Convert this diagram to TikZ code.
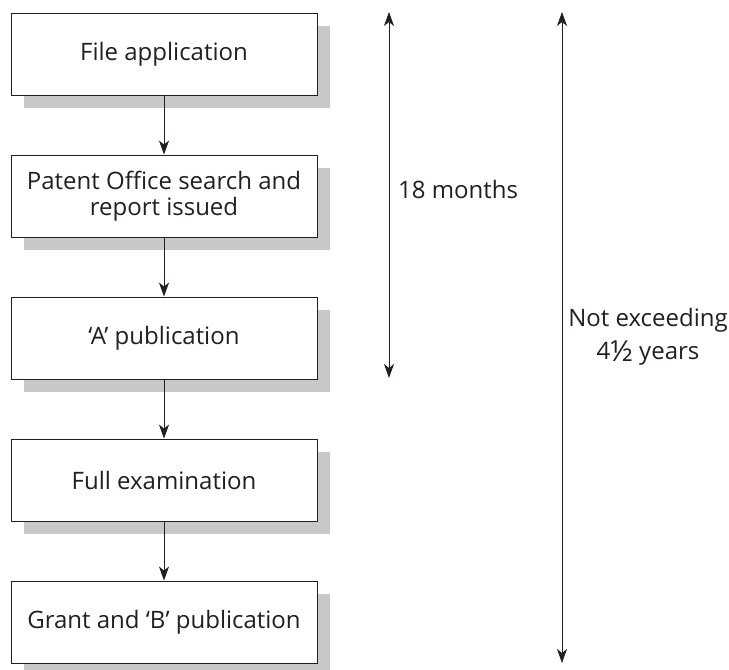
\documentclass[tikz,border=0pt]{standalone}
\usepackage{fontspec}
\setmainfont{Open Sans}
\usetikzlibrary{arrows.meta,shadows}
\definecolor{shadowgray}{RGB}{200,200,200}
\definecolor{ink}{RGB}{35,31,32}
% a one-half set as a single, slightly enlarged glyph
\newcommand{\halffrac}{\raisebox{-0.06em}{\fontsize{29}{29}\selectfont ½}}

\begin{document}
\begin{tikzpicture}[x=1pt,y=-1pt,
  stage/.style={draw=ink, line width=0.9pt, fill=white,
    minimum width=306pt, minimum height=82pt, inner sep=0pt,
    align=center, text=ink, font=\fontsize{24}{26}\selectfont,
    drop shadow={shadow xshift=13pt, shadow yshift=-13pt,
      fill=shadowgray, opacity=1}},
  flow/.style={draw=ink, line width=0.8pt,
    -{Stealth[length=14pt,width=10pt,inset=4pt]}},
  span/.style={draw=ink, line width=0.8pt,
    {Stealth[length=14pt,width=10pt,inset=4pt]}-{Stealth[length=14pt,width=10pt,inset=4pt]}},
  note/.style={text=ink, inner sep=0pt, align=center,
    font=\fontsize{24}{33}\selectfont}]
  \useasboundingbox (0,0) rectangle (729,670);

  % process stages
  \node[stage] (s1) at (164,54)  {File application};
  \node[stage] (s2) at (164,196) {Patent Office search and\\report issued};
  \node[stage] (s3) at (164,338) {‘A’ publication};
  \node[stage] (s4) at (164,480) {Full examination};
  \node[stage] (s5) at (164,622) {Grant and ‘B’ publication};

  \draw[flow] (s1) -- (s2);
  \draw[flow] (s2) -- (s3);
  \draw[flow] (s3) -- (s4);
  \draw[flow] (s4) -- (s5);

  % time spans
  \coordinate (a1) at (389,12);
  \coordinate (a2) at (389,378);
  \coordinate (b1) at (562,12);
  \coordinate (b2) at (562,663);
  \draw[span] (a1) -- (a2);
  \draw[span] (b1) -- (b2);

  \node[note, anchor=base west] (m18) at (398,198) {18 months};
  \node[note, anchor=center] (y45) at (648,337) {Not exceeding\\4\halffrac\ years};
\end{tikzpicture}
\end{document}
